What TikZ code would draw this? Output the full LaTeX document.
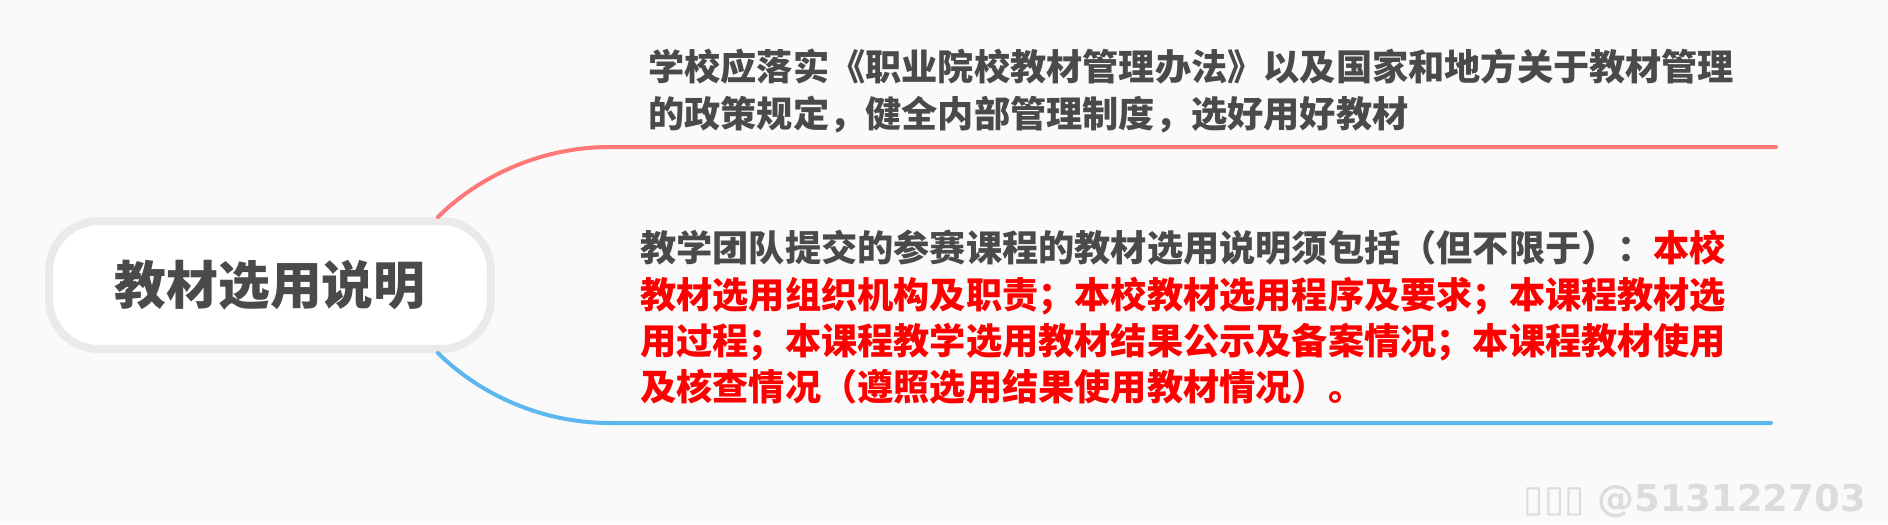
\documentclass[tikz,border=0pt]{standalone}
\usepackage{fontspec}
\usetikzlibrary{positioning}
\newfontfamily\cjk{Noto Sans CJK SC}
\newfontfamily\wmfont{DejaVu Sans}
\definecolor{pagegray}{HTML}{FAFAFA}
\definecolor{rootgray}{HTML}{EBE9E9}
\definecolor{textgray}{HTML}{4A4A4A}
\definecolor{hired}{HTML}{FF0000}
\definecolor{linkpink}{HTML}{FF7878}
\definecolor{linkblue}{HTML}{5DB7EF}
\definecolor{markgray}{HTML}{DCDCDC}

\begin{document}
\begin{tikzpicture}[x=0.02cm, y=-0.02cm, line cap=round,
            root/.style ={rectangle, rounded corners=1cm, draw=rootgray, fill=white,
            line width=0.16cm, minimum width=8.84cm, minimum height=2.56cm, text=textgray,
            font=\cjk\bfseries\fontsize{29.5pt}{32pt}\selectfont},
            leaf/.style ={anchor=north west, align=left, inner sep=0pt, text=textgray,
            font=\cjk\bfseries\fontsize{20.6pt}{26.3pt}\selectfont},
            link/.style ={line width=0.08cm},
            stamp/.style ={anchor=east, inner sep=0pt, text=markgray,
            font=\wmfont\bfseries\fontsize{21pt}{24pt}\selectfont}]

            \useasboundingbox (0,0) rectangle (1888,524);
            \fill[pagegray] (0,0) rectangle (1888,524);

            %nodo central y hojas
            \node[root] (root) at (270, 285) {教材选用说明};
            \node[leaf] (rule) at (648, 49) {学校应落实《职业院校教材管理办法》以及国家和地方关于教材管理\\
                的政策规定，健全内部管理制度，选好用好教材};
            \node[leaf] (need) at (640, 230) {教学团队提交的参赛课程的教材选用说明须包括（但不限于）：\textcolor{hired}{本校}\\
                \textcolor{hired}{教材选用组织机构及职责；本校教材选用程序及要求；本课程教材选}\\
                \textcolor{hired}{用过程；本课程教学选用教材结果公示及备案情况；本课程教材使用}\\
                \textcolor{hired}{及核查情况（遵照选用结果使用教材情况）。}};

            \coordinate (ruleA) at (610, 147);
            \coordinate (ruleB) at (1776, 147);
            \coordinate (needA) at (610, 423);
            \coordinate (needB) at (1771, 423);

            \path[draw=linkpink, link] ([xshift=-1.14cm]root.north east) .. controls +(36,-36) and +(-75,0) .. (ruleA) -- (ruleB);
            \path[draw=linkblue, link] ([xshift=-1.14cm]root.south east) .. controls +(36,36) and +(-75,0) .. (needA) -- (needB);

            %marca de agua
            \node[stamp] (wm) at (1866, 501) {▯▯▯ @513122703};
        \end{tikzpicture}
\end{document}
